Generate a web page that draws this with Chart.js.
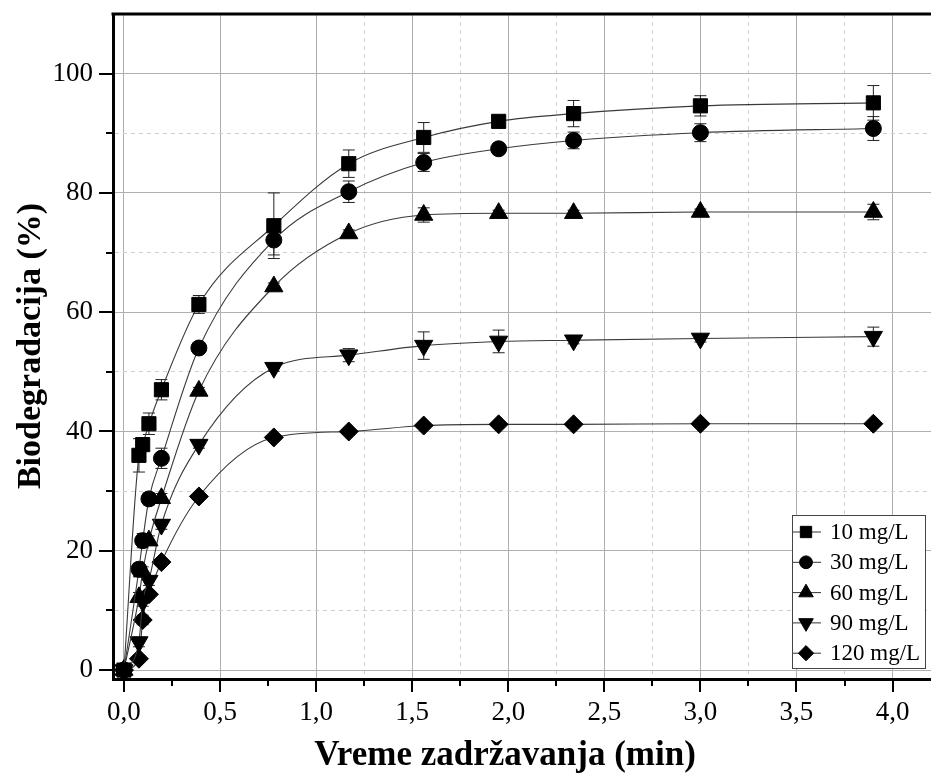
<!DOCTYPE html>
<html><head><meta charset="utf-8">
<script src="https://cdn.jsdelivr.net/npm/chart.js@4.4.1/dist/chart.umd.min.js"></script>
<style>html,body{margin:0;padding:0;background:#fff;} canvas{display:block;}</style>
</head><body>
<canvas id="c" width="931" height="783"></canvas>
<script>
// ---- data ----
const times = [0, 0.078, 0.0975, 0.13, 0.195, 0.39, 0.78, 1.17, 1.56, 1.95, 2.34, 3.0, 3.9];
const seriesNames = ['10 mg/L', '30 mg/L', '60 mg/L', '90 mg/L', '120 mg/L'];
const bio10  = [0, 36.0, 37.8, 41.3, 47.0, 61.3, 74.5, 84.9, 89.3, 92.0, 93.3, 94.6, 95.1];
const bio30  = [0, 16.9, 21.7, 28.7, 35.5, 54.0, 72.1, 80.2, 85.1, 87.4, 88.8, 90.1, 90.8];
const bio60  = [0, 12.2, 16.5, 21.7, 28.8, 46.8, 64.3, 73.2, 76.3, 76.6, 76.6, 76.8, 76.8];
const bio90  = [0, 4.7, 11.5, 15.0, 24.4, 37.8, 50.7, 52.8, 54.4, 55.1, 55.3, 55.6, 55.9];
const bio120 = [0, 1.9, 8.4, 12.7, 18.1, 29.1, 39.0, 40.0, 41.0, 41.2, 41.2, 41.3, 41.3];
const err10  = [0, 2.8, 1.0, 1.8, 1.7, 1.5, 5.5, 2.3, 2.5, 0.8, 2.2, 1.7, 2.9];
const err30  = [0, 1.0, 1.2, 1.0, 1.7, 0.8, 2.5, 1.8, 1.5, 0.8, 1.4, 1.5, 2.0];
const err60  = [0, 0.8, 0.8, 0.8, 0.8, 0.6, 0.6, 0.6, 1.2, 0.5, 0.5, 0.5, 1.3];
const err90  = [0, 0.8, 0.8, 0.8, 0.8, 0.6, 0.6, 1.1, 2.3, 1.9, 0.6, 0.6, 1.6];
const err120 = [0, 0.5, 0.8, 0.6, 0.5, 0.5, 0.5, 0.5, 0.5, 0.5, 0.5, 0.5, 0.5];
const xTickValues = [0, 0.5, 1.0, 1.5, 2.0, 2.5, 3.0, 3.5, 4.0];
const xTickLabels = ['0,0', '0,5', '1,0', '1,5', '2,0', '2,5', '3,0', '3,5', '4,0'];
const yTickValues = [0, 20, 40, 60, 80, 100];
const yTickLabels = ['0', '20', '40', '60', '80', '100'];
const xTitle = 'Vreme zadržavanja (min)';
const yTitle = 'Biodegradacija (%)';

const allValues = [bio10, bio30, bio60, bio90, bio120];
const allErrors = [err10, err30, err60, err90, err120];
const styles = [
  {pointStyle: 'rect', rotation: 0, radius: 10},
  {pointStyle: 'circle', rotation: 0, radius: 8},
  {pointStyle: 'triangle', rotation: 0, radius: 10.5},
  {pointStyle: 'triangle', rotation: 180, radius: 10.5},
  {pointStyle: 'rectRot', rotation: 0, radius: 9.5}
];
const FONT = "'Liberation Serif', 'Times New Roman', serif";

function findIdx(arr, v) { return arr.findIndex(a => Math.abs(a - v) < 1e-6); }

const datasets = allValues.map((vals, i) => ({
  label: seriesNames[i],
  data: times.map((t, j) => ({x: t, y: vals[j]})),
  errors: allErrors[i],
  showLine: true,
  borderColor: '#3a3a3a',
  borderWidth: 1.1,
  cubicInterpolationMode: 'monotone',
  pointStyle: styles[i].pointStyle,
  pointRotation: styles[i].rotation,
  pointRadius: styles[i].radius,
  pointHoverRadius: styles[i].radius,
  pointBackgroundColor: '#000',
  pointBorderColor: '#000',
  pointBorderWidth: 1,
  clip: false
}));

const errorBars = {
  id: 'errorBars',
  beforeDatasetsDraw(chart) {
    const {ctx, scales: {x, y}} = chart;
    ctx.save();
    ctx.strokeStyle = '#222';
    ctx.lineWidth = 1;
    chart.data.datasets.forEach(ds => {
      ds.data.forEach((p, j) => {
        const e = ds.errors[j];
        if (!e) return;
        const px = x.getPixelForValue(p.x);
        const y1 = y.getPixelForValue(p.y + e), y2 = y.getPixelForValue(p.y - e);
        ctx.beginPath();
        ctx.moveTo(px, y1); ctx.lineTo(px, y2);
        ctx.moveTo(px - 6, y1); ctx.lineTo(px + 6, y1);
        ctx.moveTo(px - 6, y2); ctx.lineTo(px + 6, y2);
        ctx.stroke();
      });
    });
    ctx.restore();
  }
};

const decor = {
  id: 'decor',
  afterDraw(chart) {
    const {ctx, chartArea: a, scales: {x, y}} = chart;
    ctx.save();
    ctx.strokeStyle = '#000';
    ctx.lineWidth = 2;
    x.ticks.forEach(t => {
      const px = Math.round(x.getPixelForValue(t.value));
      const major = findIdx(xTickValues, t.value) >= 0;
      ctx.beginPath(); ctx.moveTo(px, a.bottom); ctx.lineTo(px, a.bottom + (major ? 13 : 7)); ctx.stroke();
    });
    y.ticks.forEach(t => {
      if (t.value > 105) return;
      const py = Math.round(y.getPixelForValue(t.value));
      const major = findIdx(yTickValues, t.value) >= 0;
      ctx.beginPath(); ctx.moveTo(a.left, py); ctx.lineTo(a.left - (major ? 14 : 7), py); ctx.stroke();
    });
    // top frame line
    ctx.lineWidth = 3;
    ctx.beginPath(); ctx.moveTo(a.left - 1.5, a.top); ctx.lineTo(chart.width, a.top); ctx.stroke();

    // axis titles
    ctx.fillStyle = '#000';
    ctx.font = "bold 35px " + FONT;
    ctx.textAlign = 'center';
    ctx.textBaseline = 'middle';
    ctx.fillText(xTitle, 505, 756);
    ctx.font = "bold 34px " + FONT;
    ctx.save();
    ctx.translate(31, 346);
    ctx.rotate(-Math.PI / 2);
    ctx.fillText(yTitle, 0, 0);
    ctx.restore();

    // legend
    const L = 792, T = 515, R = 925, B = 668;
    ctx.fillStyle = '#fff';
    ctx.fillRect(L, T, R - L, B - T);
    ctx.strokeStyle = '#444'; ctx.lineWidth = 1;
    ctx.strokeRect(L + 0.5, T + 0.5, R - L, B - T);
    ctx.font = "23px " + FONT;
    ctx.textAlign = 'left';
    chart.data.datasets.forEach((ds, i) => {
      const yy = T + 17 + i * 30.3;
      ctx.strokeStyle = '#333'; ctx.lineWidth = 1;
      ctx.beginPath(); ctx.moveTo(L + 1, yy); ctx.lineTo(L + 29, yy); ctx.stroke();
      ctx.fillStyle = '#000'; ctx.strokeStyle = '#000';
      Chart.helpers.drawPoint(ctx, {pointStyle: ds.pointStyle, rotation: ds.pointRotation || 0,
        radius: ds.pointRadius * 0.8, borderWidth: 1}, L + 14, yy);
      ctx.fillStyle = '#000';
      ctx.fillText(ds.label, L + 38, yy + 1);
    });
    ctx.restore();
  }
};

new Chart(document.getElementById('c'), {
  type: 'scatter',
  data: {datasets},
  plugins: [errorBars, decor],
  options: {
    responsive: false,
    animation: false,
    events: [],
    layout: {autoPadding: false, padding: {left: 0, right: 0, top: 14, bottom: 0}},
    plugins: {legend: {display: false}, tooltip: {enabled: false}},
    scales: {
      x: {
        type: 'linear', min: -0.057, max: 4.2,
        afterFit(s) { s.height = 104; s.paddingLeft = 0; s.paddingRight = 0; },
        ticks: {
          stepSize: 0.25, includeBounds: false, autoSkip: false, maxRotation: 0, padding: 18,
          color: '#000', font: {family: FONT, size: 27},
          callback(v) { const k = findIdx(xTickValues, v); return k >= 0 ? xTickLabels[k] : ''; }
        },
        grid: {
          drawTicks: false, lineWidth: 1,
          color(c) {
            if (!c.tick) return '#000';
            const major = findIdx(xTickValues, c.tick.value) >= 0;
            if (major) return '#b0b0b0';
            return c.tick.value > 1.1 ? '#d0d0d0' : 'rgba(0,0,0,0)';
          }
        },
        border: {display: true, color: '#000', width: 3,
          dash(c) { if (!c.tick) return []; return findIdx(xTickValues, c.tick.value) >= 0 ? [] : [4, 4]; }
        }
      },
      y: {
        type: 'linear', min: -1.5, max: 110,
        afterFit(s) { s.width = 113; s.paddingTop = 0; s.paddingBottom = 0; },
        ticks: {
          stepSize: 10, includeBounds: false, autoSkip: false, padding: 20,
          color: '#000', font: {family: FONT, size: 27},
          callback(v) { const k = findIdx(yTickValues, v); return k >= 0 ? yTickLabels[k] : ''; }
        },
        grid: {
          drawTicks: false, lineWidth: 1,
          color(c) {
            if (!c.tick) return '#000';
            if (c.tick.value > 105) return 'rgba(0,0,0,0)';
            return findIdx(yTickValues, c.tick.value) >= 0 ? '#b0b0b0' : '#d0d0d0';
          }
        },
        border: {display: true, color: '#000', width: 3,
          dash(c) { if (!c.tick) return []; return findIdx(yTickValues, c.tick.value) >= 0 ? [] : [4, 4]; }
        }
      }
    }
  }
});
</script>
</body></html>
